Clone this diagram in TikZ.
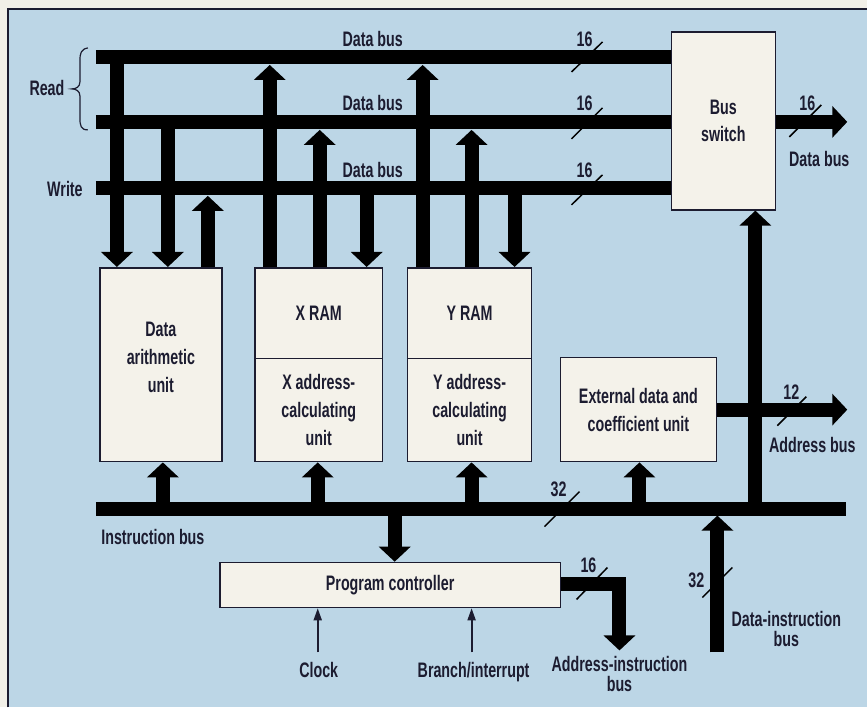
\documentclass[tikz,border=0pt]{standalone}
\usepackage{fontspec}
\setmainfont{Liberation Sans}[FakeStretch=0.68]
\usetikzlibrary{arrows.meta}
\definecolor{bg}{HTML}{BCD6E6}
\definecolor{boxc}{HTML}{F4F2EA}
\definecolor{paper}{HTML}{F2F0E8}
\definecolor{ink}{HTML}{1C1C30}
\begin{document}
\begin{tikzpicture}[x=1pt,y=-1pt,
 font=\fontsize{21}{28}\selectfont\bfseries, text=ink,
 box/.style={draw=ink, line width=1.6pt, fill=boxc, inner sep=0pt, align=center},
 bus/.style={line width=14pt, line cap=butt, draw=black},
 bigarrow/.style={line width=14pt, draw=black, line join=miter, -{Triangle[width=31pt,length=15pt]}},
 thinarrow/.style={line width=1.8pt, draw=ink, -{Triangle[width=8pt,length=12pt]}},
 slash/.style={line width=1.5pt, draw=black},
 lbl/.style={inner sep=0pt, anchor=base},
 mlbl/.style={inner sep=0pt, align=center, anchor=north, font=\fontsize{21}{19.5}\selectfont\bfseries},
]
% background and frame
\fill[paper] (0,0) rectangle (868,708);
\fill[bg] (8,9) rectangle (868,708);
\draw[ink, line width=1.5pt] (8,708) -- (8,9) -- (868,9);
\useasboundingbox (0,0) rectangle (868,708);

% boxes
\node[box, minimum width=104pt, minimum height=178pt] (bs) at (724,121) {Bus\\switch};
\node[box, minimum width=122pt, minimum height=194pt] (dau) at (161,365) {};
\node[inner sep=0pt, align=center, anchor=north] (dautext) at (161,322) {Data\\arithmetic\\unit};
\node[box, minimum width=128pt, minimum height=91pt] (xram) at (319,313.5) {X RAM};
\node[box, minimum width=128pt, minimum height=103pt] (xacu) at (319,410.5) {X address-\\calculating\\unit};
\node[box, minimum width=124pt, minimum height=91pt] (yram) at (470,313.5) {Y RAM};
\node[box, minimum width=124pt, minimum height=103pt] (yacu) at (470,410.5) {Y address-\\calculating\\unit};
\node[box, minimum width=156pt, minimum height=104pt] (ext) at (639,410) {External data and\\coefficient unit};
\node[box, minimum width=341pt, minimum height=45pt] (pc) at (390.5,585.5) {Program controller};

% bus coordinates
\coordinate (b1) at (96,57);
\coordinate (b2) at (96,122);
\coordinate (b3) at (96,188);
\coordinate (ib) at (96,509);
\coordinate (ibe) at (847,509);
\coordinate (dout) at (848,122);
\coordinate (aout) at (848,410);
\coordinate (aibc) at (620,584.5);
\coordinate (aibe) at (620,651);
\coordinate (dib) at (718,653);
\coordinate (clk) at (318,653);
\coordinate (brk) at (472,653);

% data buses
\draw[bus] (b1) -- (b1 -| bs.west);
\draw[bus] (b2) -- (b2 -| bs.west);
\draw[bus] (b3) -- (b3 -| bs.west);
\draw[bus] (ib) -- (ibe);

% vertical arrows between data buses and units
\draw[bigarrow] (117,57) -- (dau.north -| 117,0);
\draw[bigarrow] (168,122) -- (dau.north -| 168,0);
\draw[bigarrow] (dau.north -| 208,0) -- (208,196);
\draw[bigarrow] (xram.north -| 270,0) -- (270,65);
\draw[bigarrow] (xram.north -| 320,0) -- (320,130);
\draw[bigarrow] (367,188) -- (xram.north -| 367,0);
\draw[bigarrow] (yram.north -| 423,0) -- (423,65);
\draw[bigarrow] (yram.north -| 472,0) -- (472,130);
\draw[bigarrow] (515,188) -- (yram.north -| 515,0);
\draw[bigarrow] (756,509) -- (bs.south -| 756,0);

% outputs
\draw[bigarrow] (bs.east |- b2) -- (dout);
\draw[bigarrow] (ext.east) -- (aout);

% instruction bus arrows
\draw[bigarrow] (163,509) -- (dau.south -| 163,0);
\draw[bigarrow] (318,509) -- (xacu.south -| 318,0);
\draw[bigarrow] (472,509) -- (yacu.south -| 472,0);
\draw[bigarrow] (640,509) -- (ext.south -| 640,0);
\draw[bigarrow] (395,509) -- (pc.north -| 395,0);
\draw[bigarrow] (pc.east |- aibc) -- (aibc) -- (aibe);
\draw[bigarrow] (dib) -- (718,516);

% thin arrows
\draw[thinarrow] (clk) -- (pc.south -| clk);
\draw[thinarrow] (brk) -- (pc.south -| brk);

% slashes
\draw[slash] (572,72) -- (603,42);
\draw[slash] (572,139) -- (603,108);
\draw[slash] (572,205) -- (603,175);
\draw[slash] (790,137) -- (822,105);
\draw[slash] (778,426) -- (807,397);
\draw[slash] (545,527) -- (580,492);
\draw[slash] (577,600) -- (608,568);
\draw[slash] (703,598) -- (733,568);

% brace
\draw[ink, line width=1.2pt] (88,48) .. controls (81,49) and (80,54) .. (80,60) -- (80,82)
  .. controls (80,87) and (76,89) .. (72,89) .. controls (76,89) and (80,91) .. (80,96)
  -- (80,118) .. controls (80,126) and (81,130) .. (88,130);

% labels
\node[lbl] (ldb1) at (373,46.5) {Data bus};
\node[lbl] (ldb2) at (373,111) {Data bus};
\node[lbl] (ldb3) at (373,178) {Data bus};
\node[lbl] (n1) at (585,46.5) {16};
\node[lbl] (n2) at (585,111) {16};
\node[lbl] (n3) at (585,178) {16};
\node[lbl] (lread) at (47,96) {Read};
\node[lbl] (lwrite) at (65,196.5) {Write};
\node[lbl] (n4) at (808,111) {16};
\node[lbl] (ldbo) at (820,166.5) {Data bus};
\node[lbl] (n5) at (792,399.5) {12};
\node[lbl] (lab) at (813,452.5) {Address bus};
\node[lbl] (n6) at (559,496.5) {32};
\node[lbl] (lib) at (153,545) {Instruction bus};
\node[lbl] (n7) at (589,572.5) {16};
\node[lbl] (n8) at (697,587.5) {32};
\node[lbl] (lclk) at (319,678.5) {Clock};
\node[lbl] (lbrk) at (474,678.5) {Branch/interrupt};
\node[mlbl] (ldib) at (787,612) {Data-instruction\\bus};
\node[mlbl] (laib) at (620,657) {Address-instruction\\bus};
\end{tikzpicture}
\end{document}
